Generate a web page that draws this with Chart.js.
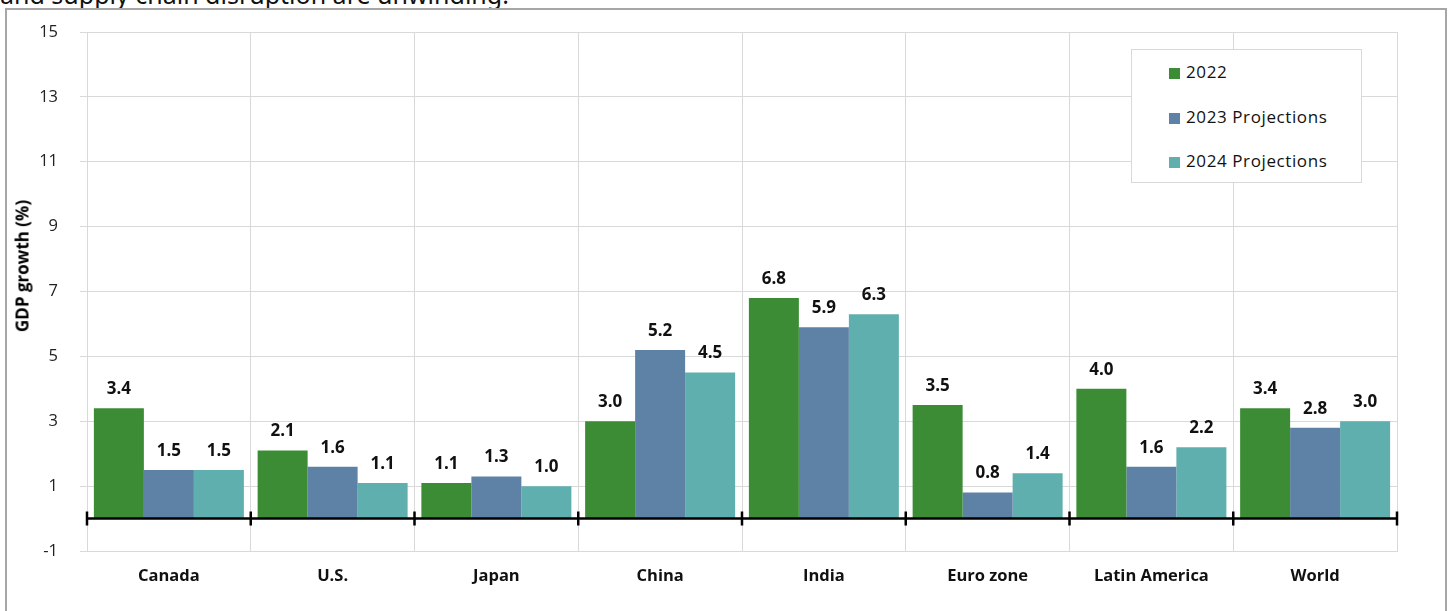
<!DOCTYPE html>
<html>
<head>
<meta charset="utf-8">
<script src="https://cdn.jsdelivr.net/npm/chart.js@4.4.1/dist/chart.umd.min.js"></script>
<style>
	body { margin: 0; background: #fff; overflow: hidden; }
	#wrap { position: relative; width: 1452px; height: 611px; }
	#frame { position: absolute; left: 5px; top: 8px; width: 1442px; height: 620px; border: 2px solid #a6a6a6; box-sizing: border-box; }
	#heading { position: absolute; left: 0; top: -23px; font: 25px "Noto Sans", sans-serif; color: #111; white-space: nowrap; }
	#ytitle { position: absolute; left: 22px; top: 266px; transform: translate(-50%, -50%) rotate(-90deg); font: bold 17px "Open Sans", sans-serif; color: #000; white-space: nowrap; }
	#legend { position: absolute; left: 1131px; top: 49px; width: 231px; height: 134px; border: 1px solid #d9d9d9; box-sizing: border-box; background: #fff; }
	.item { position: absolute; left: 37px; height: 24px; line-height: 24px; font: 17px "Open Sans", sans-serif; letter-spacing: 0.6px; color: #111; white-space: nowrap; }
	.item span { display: inline-block; width: 11px; height: 11px; margin-right: 6px; vertical-align: -1px; }
	canvas { position: absolute; left: 0; top: 0; }
</style>
</head>
<body>
<div id="wrap">
	<div id="heading">and supply chain disruption are unwinding.</div>
	<div id="frame"></div>
	<canvas id="gdpChart" width="1452" height="611"></canvas>
	<div id="ytitle">GDP growth (%)</div>
	<div id="legend"></div>
</div>
<script>
const regions = ["Canada", "U.S.", "Japan", "China", "India", "Euro zone", "Latin America", "World"];
const growth2022 = [3.4, 2.1, 1.1, 3.0, 6.8, 3.5, 4.0, 3.4];
const proj2023 = [1.5, 1.6, 1.3, 5.2, 5.9, 0.8, 1.6, 2.8];
const proj2024 = [1.5, 1.1, 1.0, 4.5, 6.3, 1.4, 2.2, 3.0];
const seriesNames = ["2022", "2023 Projections", "2024 Projections"];
const seriesColors = ["#3c8c36", "#5e82a6", "#5fafaf"];
const yMin = -1, yMax = 15, yStep = 2;

// value labels above each bar
const barLabels = {
	id: 'barLabels',
	afterDatasetsDraw(chart) {
		const ctx = chart.ctx;
		ctx.save();
		ctx.font = 'bold 17px "Open Sans", sans-serif';
		ctx.fillStyle = '#111';
		ctx.textAlign = 'center';
		ctx.textBaseline = 'middle';
		chart.data.datasets.forEach((ds, i) => {
			chart.getDatasetMeta(i).data.forEach((bar, j) => {
				ctx.fillText(ds.data[j].toFixed(1), bar.x, bar.y - 19);
			});
		});
		ctx.restore();
	}
};

// black line at zero with tick marks at category boundaries
const zeroLine = {
	id: 'zeroLine',
	afterDatasetsDraw(chart) {
		const ctx = chart.ctx;
		const x = chart.scales.x, y = chart.scales.y;
		const y0 = y.getPixelForValue(0);
		const step = (x.right - x.left) / regions.length;
		ctx.save();
		ctx.strokeStyle = '#000';
		ctx.lineWidth = 2.5;
		ctx.beginPath();
		ctx.moveTo(x.left, y0);
		ctx.lineTo(x.right, y0);
		for (let k = 0; k <= regions.length; k++) {
			const px = x.left + k * step;
			ctx.moveTo(px, y0 - 7);
			ctx.lineTo(px, y0 + 7);
		}
		ctx.stroke();
		ctx.restore();
	}
};

const gdpChart = new Chart(document.getElementById("gdpChart"), {
	type: 'bar',
	data: {
		labels: regions,
		datasets: [growth2022, proj2023, proj2024].map((vals, i) => ({
			label: seriesNames[i],
			data: vals,
			backgroundColor: seriesColors[i],
			borderWidth: 0,
			categoryPercentage: 0.916,
			barPercentage: 1
		}))
	},
	options: {
		responsive: false,
		animation: false,
		layout: { padding: { top: 32, right: 55, left: 0, bottom: 0 } },
		plugins: {
			legend: { display: false },
			tooltip: { enabled: false }
		},
		scales: {
			x: {
				grid: { color: '#d9d9d9', offset: true, drawTicks: false },
				border: { color: '#d9d9d9' },
				ticks: { color: '#111', padding: 15, font: { family: 'Open Sans', size: 16.5, weight: 'bold' } },
				afterFit(scale) { scale.height = 60; }
			},
			y: {
				min: yMin,
				max: yMax,
				grid: { color: '#d9d9d9', tickLength: 7 },
				border: { color: '#d9d9d9' },
				ticks: { stepSize: yStep, color: '#222', padding: 22, font: { family: 'Open Sans', size: 16.5 } },
				afterFit(scale) { scale.width = 87; }
			}
		}
	},
	plugins: [zeroLine, barLabels]
});

// legend box
const legendBox = document.getElementById("legend");
const rowTops = [10, 55, 99];
seriesNames.forEach((name, i) => {
	legendBox.innerHTML += `<div class="item" style="top:${rowTops[i]}px"><span style="background:${seriesColors[i]}"></span>${name}</div>`;
});
</script>
</body>
</html>
